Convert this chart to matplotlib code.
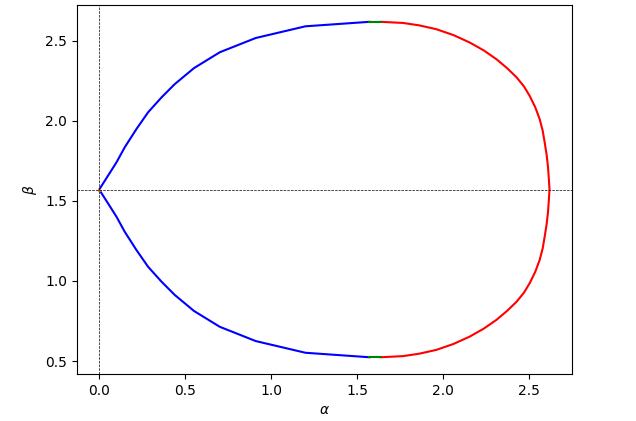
import numpy as np
import matplotlib
matplotlib.use('Agg')
import matplotlib.pyplot as plt

# blue branch, upper half then lower half
blue_up_x = [1.571, 1.199, 0.910, 0.701, 0.551, 0.439, 0.362, 0.284, 0.216, 0.148, 0.100, 0.0]
blue_up_y = [2.618, 2.590, 2.517, 2.428, 2.329, 2.229, 2.146, 2.053, 1.948, 1.834, 1.740, 1.571]
blue_lo_x = [0.0, 0.100, 0.148, 0.216, 0.284, 0.362, 0.439, 0.551, 0.701, 0.910, 1.199, 1.571]
blue_lo_y = [1.571, 1.402, 1.308, 1.194, 1.089, 0.996, 0.913, 0.813, 0.714, 0.625, 0.552, 0.524]

# red arc, top to bottom
red_x = [1.637, 1.766, 1.860, 1.960, 2.060, 2.154, 2.235, 2.309, 2.370, 2.426,
         2.470, 2.503, 2.535, 2.561, 2.578, 2.590, 2.601, 2.609, 2.614, 2.618,
         2.614, 2.609, 2.601, 2.590, 2.578, 2.561, 2.535, 2.503, 2.470, 2.426,
         2.370, 2.309, 2.235, 2.154, 2.060, 1.960, 1.860, 1.766, 1.637]
red_y = [2.618, 2.611, 2.596, 2.572, 2.535, 2.489, 2.440, 2.385, 2.330, 2.272,
         2.214, 2.155, 2.085, 2.010, 1.940, 1.865, 1.790, 1.715, 1.640, 1.571,
         1.502, 1.427, 1.352, 1.277, 1.202, 1.132, 1.057, 0.987, 0.928, 0.870,
         0.812, 0.757, 0.702, 0.653, 0.607, 0.570, 0.546, 0.531, 0.524]

# short green pieces at both ends
green_x = [1.571, 1.637]
green_top_y = [2.618, 2.618]
green_bot_y = [0.524, 0.524]

origin = (0.0, np.pi / 2)

fig = plt.figure(figsize=(6.36, 4.21), dpi=100)
ax = fig.add_axes([0.1206, 0.1116, 0.7788, 0.8764])

ax.plot(blue_up_x + blue_lo_x[1:], blue_up_y + blue_lo_y[1:], color='b')
ax.plot(red_x, red_y, color='r')
ax.plot(green_x, green_top_y, color='g')
ax.plot(green_x, green_bot_y, color='g')
ax.plot([origin[0]], [origin[1]], '.', color='C1', markersize=3)

ax.axvline(0, color='k', ls='--', lw=0.5)
ax.axhline(np.pi / 2, color='k', ls='--', lw=0.5)

ax.set_xlabel(r'$\alpha$')
ax.set_ylabel(r'$\beta$')

fig.savefig('out.png', dpi=100)
